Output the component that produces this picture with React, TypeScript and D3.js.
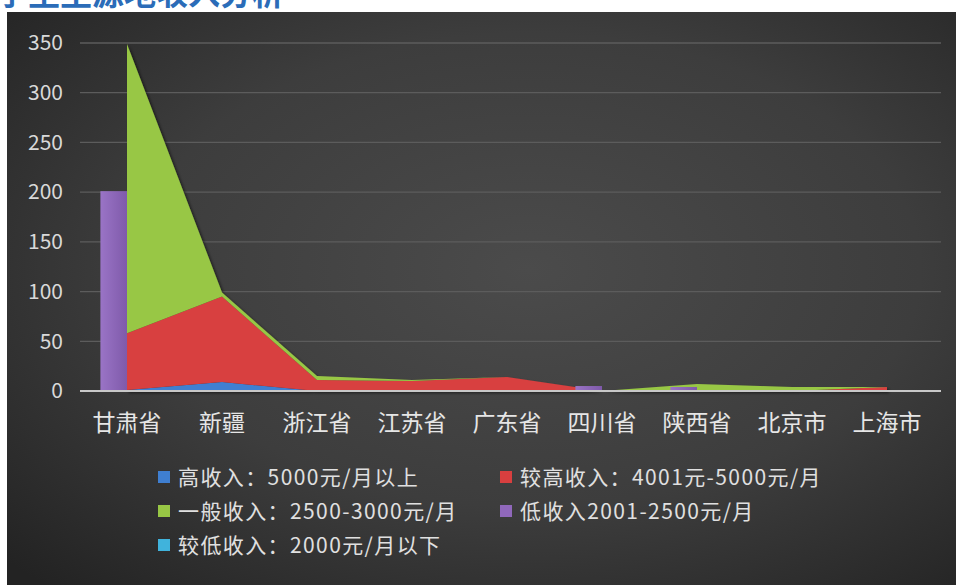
import React from 'react';
import * as d3 from 'd3';

const categories = ['甘肃省', '新疆', '浙江省', '江苏省', '广东省', '四川省', '陕西省', '北京市', '上海市'];
const highIncome = [1, 9, 0, 0, 0, 0, 0, 0, 0];
const higherIncome = [57, 86, 11, 10, 14, 0, 0, 0, 4];
const generalIncome = [291, 4, 4, 1, 0, 0, 7, 4, 0];
const lowerIncome = [0, 0, 0, 0, 0, 0, 0, 0, 0];
const lowIncome = [201, 0, 0, 0, 0, 5, 4, 0, 0];
const yTicks = [0, 50, 100, 150, 200, 250, 300, 350];

const seriesNames = {
  high: '高收入：5000元/月以上',
  higher: '较高收入：4001元-5000元/月',
  general: '一般收入：2500-3000元/月',
  low: '低收入2001-2500元/月',
  lower: '较低收入：2000元/月以下',
};
const colors = {
  high: '#3f7fd1',
  higher: '#d83f3f',
  general: '#98c745',
  low: '#9068bb',
  lower: '#40b3dc',
};

const W = 956;
const H = 585;
const FONT = '"Noto Sans CJK SC", "Noto Sans", sans-serif';

export default function App() {
  const x = d3.scalePoint<string>().domain(categories).range([79.5, 934.5]).padding(0.5);
  const y = d3.scaleLinear().domain([0, 350]).range([391, 43]);
  const step = x.step();
  const barW = step * 0.28;

  const rows = categories.map((c, i) => ({
    cat: c,
    high: highIncome[i],
    higher: higherIncome[i],
    general: generalIncome[i],
    lower: lowerIncome[i],
  }));
  const keys = ['high', 'higher', 'general', 'lower'];
  const stack = d3.stack<any>().keys(keys)(rows);
  const area = d3
    .area<any>()
    .x((d: any) => x(d.data.cat) as number)
    .y0((d: any) => y(d[0]))
    .y1((d: any) => y(d[1]));

  const legend = [
    { key: 'high', col: 0, row: 0 },
    { key: 'higher', col: 1, row: 0 },
    { key: 'general', col: 0, row: 1 },
    { key: 'low', col: 1, row: 1 },
    { key: 'lower', col: 0, row: 2 },
  ];

  return (
    <svg width={W} height={H} style={{ position: 'absolute', left: 0, top: 0 }} fontFamily={FONT}>
      <defs>
        <radialGradient id="bg" cx="0.55" cy="0.45" r="0.75">
          <stop offset="0" stopColor="#4b4b4b" />
          <stop offset="0.55" stopColor="#3d3d3d" />
          <stop offset="1" stopColor="#232323" />
        </radialGradient>
        <linearGradient id="purpleGrad" x1="0" x2="1" y1="0" y2="0">
          <stop offset="0" stopColor="#9a74c6" />
          <stop offset="1" stopColor="#7f5aaa" />
        </linearGradient>
        <filter id="shadow" x="-5%" y="-5%" width="110%" height="110%">
          <feDropShadow dx="2" dy="2" stdDeviation="1.5" floodColor="#000" floodOpacity="0.55" />
        </filter>
      </defs>
      <rect x={0} y={0} width={W} height={H} fill="#ffffff" />
      <text x={-4} y={5} fontSize={32} fontWeight="bold" fill="#2b6cb8">
        学生生源地收入分析
      </text>
      <rect x={7} y={12} width={W - 7} height={H - 12} fill="url(#bg)" />

      {yTicks.map((t) => (
        <g key={t}>
          {t > 0 && (
            <line x1={80} x2={941} y1={y(t)} y2={y(t)} stroke="#5c5c5c" strokeWidth={1.3} />
          )}
          <text
            x={63}
            y={y(t)}
            dy="0.35em"
            textAnchor="end"
            fontSize={21}
            fill="#d9d9d9"
          >
            {t}
          </text>
        </g>
      ))}

      <g filter="url(#shadow)">
        {stack.map((s: any) => (
          <path key={s.key} d={area(s) as string} fill={(colors as any)[s.key]} />
        ))}
      </g>

      {categories.map((c, i) =>
        lowIncome[i] > 0 ? (
          <rect
            key={c}
            x={(x(c) as number) - barW}
            y={y(lowIncome[i])}
            width={barW}
            height={y(0) - y(lowIncome[i])}
            fill="url(#purpleGrad)"
          />
        ) : null
      )}

      <line x1={80} x2={941} y1={y(0)} y2={y(0)} stroke="#c8c8c8" strokeWidth={2} />

      {categories.map((c) => (
        <text
          key={c}
          x={x(c) as number}
          y={431}
          textAnchor="middle"
          fontSize={23}
          fill="#e6e6e6"
        >
          {c}
        </text>
      ))}

      {legend.map((l) => {
        const lx = l.col === 0 ? 158 : 500;
        const ly = 477 + l.row * 34;
        return (
          <g key={l.key}>
            <rect x={lx} y={ly - 6} width={12} height={12} fill={(colors as any)[l.key]} />
            <text
              x={lx + 20}
              y={ly}
              dy="0.36em"
              fontSize={21}
              letterSpacing={1.4}
              fill="#e0e0e0"
            >
              {(seriesNames as any)[l.key]}
            </text>
          </g>
        );
      })}
    </svg>
  );
}
